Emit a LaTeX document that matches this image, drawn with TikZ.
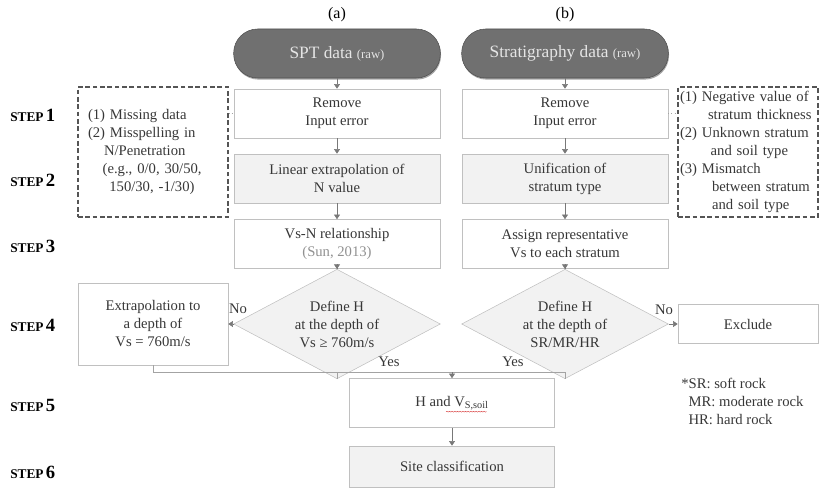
\documentclass[tikz,border=0pt]{standalone}
\usepackage{fontspec}
\setmainfont{Liberation Serif}
\usetikzlibrary{arrows.meta,shapes.geometric,shadows,decorations.pathmorphing}
\begin{document}
\begin{tikzpicture}[x=0.75pt,y=-0.75pt]
            \definecolor{pill_color}{RGB}{112,112,112}
            \definecolor{box_color}{RGB}{192,192,192}
            \definecolor{fill_color}{RGB}{242,242,242}
            \definecolor{text_color}{RGB}{55,55,55}
            \definecolor{arrow_color}{RGB}{120,120,120}
            \definecolor{dash_color}{RGB}{85,85,85}
            \tikzstyle{every node} = [font=\fontsize{11}{13.5}\selectfont, text=text_color, align=center, inner sep=0pt]
            \tikzstyle{pill} = [draw=pill_color!70!black, fill=pill_color, text=white!90!black, rounded corners=18pt, minimum width=155pt, minimum height=36.75pt, drop shadow={shadow xshift=0.5pt, shadow yshift=-1.2pt, opacity=0.7}, font=\fontsize{13}{15}\selectfont]
            \tikzstyle{box} = [draw=box_color, fill=white, minimum width=154.5pt, minimum height=36.75pt]
            \tikzstyle{gbox} = [box, fill=fill_color]
            \tikzstyle{dec} = [shape=diamond, draw=box_color, fill=fill_color, minimum width=155pt, minimum height=58.5pt, inner xsep=0pt, inner ysep=-8pt]
            \tikzstyle{note} = [draw=dash_color, dash pattern=on 3.5pt off 2pt, line width=0.8pt, minimum height=97.5pt, align=left]
            \tikzstyle{ann} = [text=text_color]
            \tikzstyle{steplab} = [anchor=west, text=black, font=\bfseries]
            \tikzstyle{flow} = [arrow_color, -{Triangle[width=4.5pt,length=3.5pt]}]
            \tikzstyle{link} = [box_color!85!black]
            \useasboundingbox (0,0) rectangle (820,488);
            % column headers
            \node[ann, text=black, font=\fontsize{12}{14}\selectfont] (lab_a) at (337,15) {(a)};
            \node[ann, text=black, font=\fontsize{12}{14}\selectfont] (lab_b) at (565,15) {(b)};
            \node[pill] (spt) at (337,53.5) {SPT data {\fontsize{9.5}{10}\selectfont(raw)}};
            \node[pill] (strat) at (565,53.5) {Stratigraphy data {\fontsize{9.5}{10}\selectfont(raw)}};
            % steps 1-3
            \node[box] (rem_a) at (337,113.5) {Remove\\Input error};
            \node[box] (rem_b) at (565,113.5) {Remove\\Input error};
            \node[gbox] (lin_a) at (337,178.5) {Linear extrapolation of\\N value};
            \node[gbox] (uni_b) at (565,178.5) {Unification of\\stratum type};
            \node[box] (vsn_a) at (337,244) {Vs-N relationship\\{\color{text_color!55}(Sun, 2013)}};
            \node[box] (asg_b) at (565,244) {Assign representative\\Vs to each stratum};
            \node[note, text width=97.5pt, inner xsep=7.5pt] (err_a) at (153,152) {(1) Missing data\\(2) Misspelling in\\\hspace*{12pt}N/Penetration\\\hspace*{11pt}(e.g., 0/0, 30/50,\\\hspace*{16pt}150/30, -1/30)};
            \node[note, text width=102pt, inner xsep=1.5pt] (err_b) at (748,152) {(1) Negative value of\\\hspace*{21pt}stratum thickness\\(2) Unknown stratum\\\hspace*{23pt}and soil type\\(3) Mismatch\\\hspace*{24pt}between stratum\\\hspace*{24pt}and soil type};
            % step 4
            \node[dec] (dia_a) at (337,324) {Define H\\at the depth of\\Vs ≥ 760m/s};
            \node[dec] (dia_b) at (565,324) {Define H\\at the depth of\\SR/MR/HR};
            \node[box, minimum width=112.5pt, minimum height=61.5pt] (ext) at (153,324) {Extrapolation to\\a depth of\\Vs = 760m/s};
            \node[box, minimum width=105pt, minimum height=29.25pt] (exc) at (748,324) {Exclude};
            % steps 5-6
            \node[box, minimum width=153.75pt] (hv) at (452,403) {H and V\textsubscript{S,soil}};
            \node[gbox, minimum width=153.75pt, minimum height=30.75pt] (site) at (452,466.5) {Site classification};
            \coordinate (join) at (452,372);
            \node[ann, align=left, anchor=north west] (abbr) at (681,378) {*SR: soft rock\\\phantom{*}MR: moderate rock\\\phantom{*}HR: hard rock};
            \node[ann] (no_a) at (238,309) {No};
            \node[ann] (yes_a) at (389,362) {Yes};
            \node[ann] (yes_b) at (513,362) {Yes};
            \node[ann] (no_b) at (664,310) {No};
            \node[steplab] (step1) at (10,115) {{\fontsize{10}{12}\selectfont STEP}\,{\fontsize{14}{14}\selectfont 1}};
            \node[steplab] (step2) at (10,180) {{\fontsize{10}{12}\selectfont STEP}\,{\fontsize{14}{14}\selectfont 2}};
            \node[steplab] (step3) at (10,246) {{\fontsize{10}{12}\selectfont STEP}\,{\fontsize{14}{14}\selectfont 3}};
            \node[steplab] (step4) at (10,325) {{\fontsize{10}{12}\selectfont STEP}\,{\fontsize{14}{14}\selectfont 4}};
            \node[steplab] (step5) at (10,405) {{\fontsize{10}{12}\selectfont STEP}\,{\fontsize{14}{14}\selectfont 5}};
            \node[steplab] (step6) at (10,472) {{\fontsize{10}{12}\selectfont STEP}\,{\fontsize{14}{14}\selectfont 6}};
            % connectors
            \draw[flow] (spt) -- (rem_a);
            \draw[flow] (rem_a) -- (lin_a);
            \draw[flow] (lin_a) -- (vsn_a);
            \draw[flow] (vsn_a) -- (dia_a);
            \draw[flow] (strat) -- (rem_b);
            \draw[flow] (rem_b) -- (uni_b);
            \draw[flow] (uni_b) -- (asg_b);
            \draw[flow] (asg_b) -- (dia_b);
            \draw[flow] (dia_a) -- (ext);
            \draw[flow] (dia_b) -- (exc);
            \draw[link] (ext.south) |- (join);
            \draw[link] (dia_b.south) |- (join);
            \draw[link] (dia_a.south) -- (dia_a.south |- join);
            \draw[flow] (join) -- (hv);
            \draw[flow] (hv) -- (site);
            \draw[link, dotted] (err_a.east |- rem_a.west) -- (rem_a.west);
            \draw[link, dotted] (rem_b.east) -- (rem_b.east -| err_b.west);
            \draw[red!80!black, very thin, decorate, decoration={snake, amplitude=0.35pt, segment length=2pt}] ([xshift=-4.5pt,yshift=-6.5pt]hv.center) -- ([xshift=26pt,yshift=-6.5pt]hv.center);
        \end{tikzpicture}
\end{document}
